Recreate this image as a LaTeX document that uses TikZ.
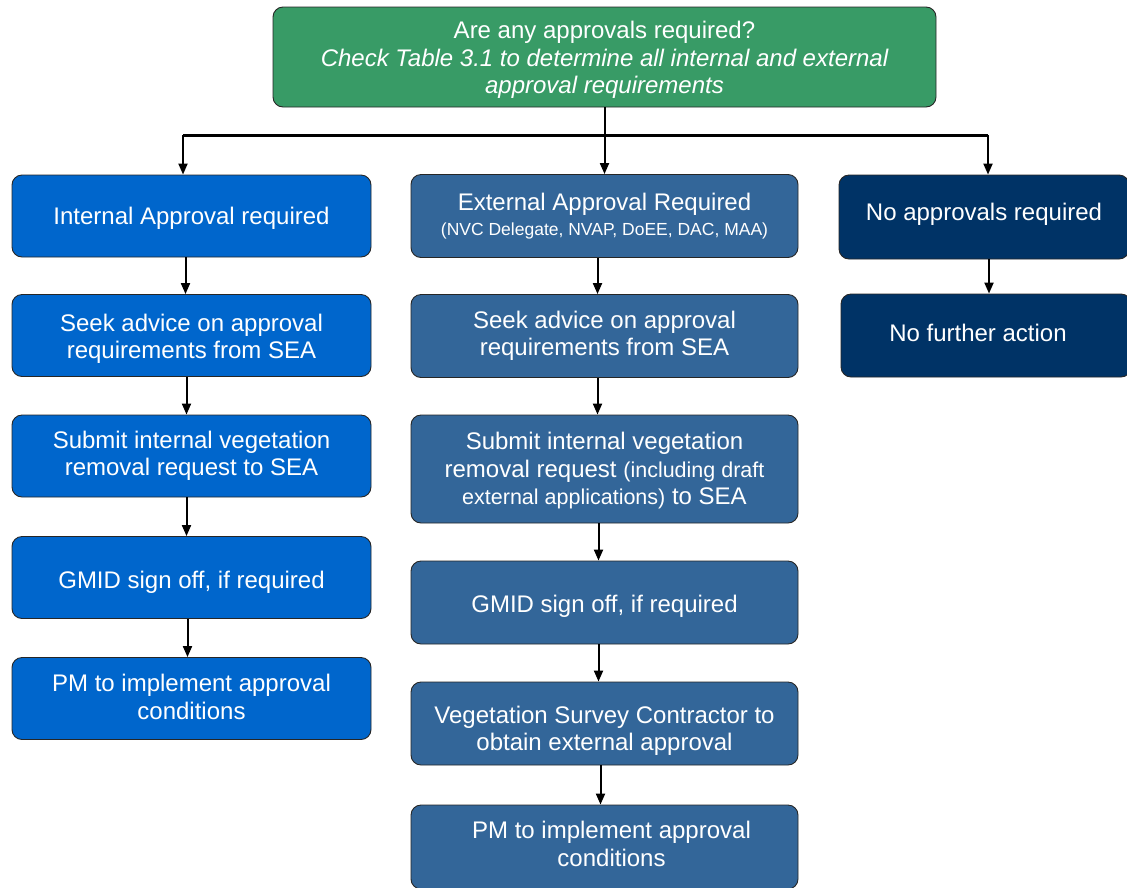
\documentclass[tikz,border=0pt]{standalone}
\usepackage{fontspec}
\setmainfont{Liberation Sans}
\usetikzlibrary{arrows.meta}
\definecolor{topgreen}{HTML}{389B66}
\definecolor{leftblue}{HTML}{0066CC}
\definecolor{midblue}{HTML}{336699}
\definecolor{rightblue}{HTML}{003366}
\newcommand{\lift}[1]{\rule{0pt}{#1}}
\begin{document}
\begin{tikzpicture}[x=1pt,y=-1pt,
  box/.style={draw=black!85, line width=0.9pt, rounded corners=10pt, text=white,
    align=center, inner sep=0pt, font=\fontsize{24}{27.5}\selectfont},
  lbox/.style={box, fill=leftblue, minimum width=359pt, minimum height=82pt},
  mbox/.style={box, fill=midblue, minimum width=387pt, minimum height=83pt},
  rbox/.style={box, fill=rightblue, minimum width=290pt, minimum height=84pt},
  dn/.style={execute at begin node={\rule{0pt}{#1}}},
  up/.style={execute at end node={\rule[-#1]{0pt}{#1}}},
  arr/.style={line width=2pt, -{Triangle[length=11pt,width=9pt]}}]
\useasboundingbox (0,0) rectangle (1127,887);
\clip (0,0) rectangle (1127,887);

% top
\node[box, fill=topgreen, minimum width=663pt, minimum height=100pt] (top) at (604.5,57)
  {\lift{23pt}Are any approvals required?\\\itshape Check Table 3.1 to determine all internal and external\\\itshape approval requirements};

% left column
\node[lbox, dn=21pt] (l1) at (191.5,216) {Internal Approval required};
\node[lbox] (l2) at (191.5,335.5) {\lift{24pt}Seek advice on approval\\requirements from SEA};
\node[lbox] (l3) at (191.5,456) {Submit internal vegetation\\removal request to SEA};
\node[lbox, dn=27pt] (l4) at (191.5,577.5) {GMID sign off, if required};
\node[lbox, up=3pt] (l5) at (191.5,698.5) {PM to implement approval\\conditions};

% middle column
\node[mbox] (m1) at (604.5,216) {External Approval Required\\[-2pt]{\fontsize{17.5}{20}\selectfont (NVC Delegate, NVAP, DoEE, DAC, MAA)}};
\node[mbox] (m2) at (604.5,336) {Seek advice on approval\\requirements from SEA};
\node[mbox, minimum height=108pt] (m3) at (604.5,469) {\lift{21pt}Submit internal vegetation\\removal request {\fontsize{21.5}{24}\selectfont(including draft}\\{\fontsize{21.5}{24}\selectfont external applications)} to SEA};
\node[mbox, dn=25pt] (m4) at (604.5,602.5) {GMID sign off, if required};
\node[mbox] (m5) at (604.5,723.5) {\lift{32pt}Vegetation Survey Contractor to\\obtain external approval};
\node[mbox, minimum height=84pt, up=6pt] (m6) at (604.5,847) {\hspace*{14pt}PM to implement approval\\\hspace*{14pt}conditions};

% right column
\node[rbox, up=10pt] (r1) at (984,217) {No approvals required};
\node[rbox, minimum height=83pt, up=6pt] (r2) at (986,335.5) {\hspace*{-16pt}No further action};

% bus
\coordinate (bus) at (604.5,135);
\draw[line width=3pt] ([xshift=-8.5pt]l1.north |- bus) -- ([xshift=4pt]r1.north |- bus);
\draw[arr] (top.south) -- (m1.north);
\draw[arr] ([xshift=-8.5pt]l1.north |- bus) -- ([xshift=-8.5pt]l1.north);
\draw[arr] ([xshift=4pt]r1.north |- bus) -- ([xshift=4pt]r1.north);

% left arrows
\draw[arr] ([xshift=-6pt]l1.south) -- ([xshift=-6pt]l2.north);
\draw[arr] ([xshift=-5pt]l2.south) -- ([xshift=-5pt]l3.north);
\draw[arr] ([xshift=-5pt]l3.south) -- ([xshift=-5pt]l4.north);
\draw[arr] ([xshift=-4pt]l4.south) -- ([xshift=-4pt]l5.north);

% middle arrows
\draw[arr] ([xshift=-7pt]m1.south) -- ([xshift=-7pt]m2.north);
\draw[arr] ([xshift=-7pt]m2.south) -- ([xshift=-7pt]m3.north);
\draw[arr] ([xshift=-6pt]m3.south) -- ([xshift=-6pt]m4.north);
\draw[arr] ([xshift=-6pt]m4.south) -- ([xshift=-6pt]m5.north);
\draw[arr] ([xshift=-4pt]m5.south) -- ([xshift=-4pt]m6.north);

% right arrow
\draw[arr] ([xshift=5pt]r1.south) -- ([xshift=5pt]r1.south |- r2.north);
\end{tikzpicture}
\end{document}
